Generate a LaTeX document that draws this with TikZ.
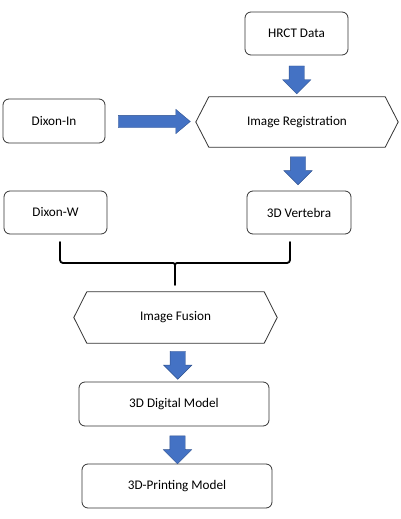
\documentclass[tikz,border=0pt]{standalone}
\usepackage{fontspec}
\setmainfont{Carlito}
\usetikzlibrary{calc}
\usetikzlibrary{shapes.arrows}

\definecolor{arrowblue}{HTML}{4472C4}
\definecolor{arrowedge}{HTML}{2F528F}

\tikzset{
  stepbox/.style = {draw = black!80, line width = .8pt, rounded corners = 6pt,
    minimum height = 43pt, font = \fontsize{13.2}{15}\selectfont},
  hexbox/.style = {minimum width = 202pt, minimum height = 50pt,
    font = \fontsize{13.2}{15}\selectfont},
  blockarrow/.style = {single arrow, fill = arrowblue, draw = arrowedge,
    line width = .4pt, inner sep = 7.5pt, minimum width = 28pt,
    minimum height = 28pt, single arrow head extend = 6.5pt},
  brace/.style = {line width = 1.8pt, line join = round, line cap = round}
}

\begin{document}
\begin{tikzpicture}[x = 1pt, y = -1pt]
  \useasboundingbox (0, 0) rectangle (400, 519);

  \node[stepbox, minimum width = 103pt] (hrct) at (296.5, 33.5) {HRCT Data};
  \node[stepbox, minimum width = 102pt, minimum height = 44pt] (dixin) at (54, 121) {Dixon-In};
  \node[hexbox] (reg) at (297, 122) {Image Registration};
  \node[stepbox, minimum width = 103pt] (dixw) at (55.5, 212.5) {Dixon-W};
  \node[stepbox, minimum width = 104pt] (vert) at (299, 212.5) {3D Vertebra};
  \node[hexbox, minimum width = 203pt, minimum height = 51pt] (fusion) at (175.5, 317.5) {Image Fusion};
  \node[stepbox, minimum width = 190pt, minimum height = 44pt] (digital) at (174, 404) {3D Digital Model};
  \node[stepbox, minimum width = 190pt, minimum height = 44pt] (printing) at (177, 486) {3D-Printing Model};

  % hexagon outlines
  \foreach \n in {reg, fusion}
    \draw[draw = black!80, line width = .8pt, line join = round] (\n.west)
      -- ([xshift = 13pt]\n.north west) -- ([xshift = -13pt]\n.north east)
      -- (\n.east) -- ([xshift = -13pt]\n.south east)
      -- ([xshift = 13pt]\n.south west) -- cycle;

  % block arrows
  \node[blockarrow, shape border rotate = 270] (a1) at ($(hrct.south)!.5!(reg.north)$) {};
  \node[blockarrow, shape border rotate = 270] (a2) at ($(reg.south)!.5!(vert.north) + (0, -2)$) {};
  \node[blockarrow, inner sep = 6pt, minimum width = 24pt, minimum height = 72pt,
    single arrow head extend = 6pt, single arrow tip angle = 80] (a0)
    at ($(dixin.east)!.5!(reg.west)$) {};
  \node[blockarrow, shape border rotate = 270] (a3) at ($(fusion.south)!.5!(digital.north) + (3, -1)$) {};
  \node[blockarrow, shape border rotate = 270] (a4) at ($(digital.south)!.5!(printing.north) + (2, 1)$) {};

  % brace joining Dixon-W and 3D Vertebra
  \coordinate (bl) at (60, 242);
  \coordinate (br) at (290, 242);
  \coordinate (bt) at (175, 285);
  \draw[brace, rounded corners = 3pt] (bl) -- (60, 263) -- (171, 263);
  \draw[brace, rounded corners = 3pt] (br) -- (290, 263) -- (179, 263);
  \draw[brace] (171, 263) .. controls (175, 263) .. (175, 268)
    .. controls (175, 263) .. (179, 263);
  \draw[brace] (175, 267) -- (bt);
\end{tikzpicture}
\end{document}
